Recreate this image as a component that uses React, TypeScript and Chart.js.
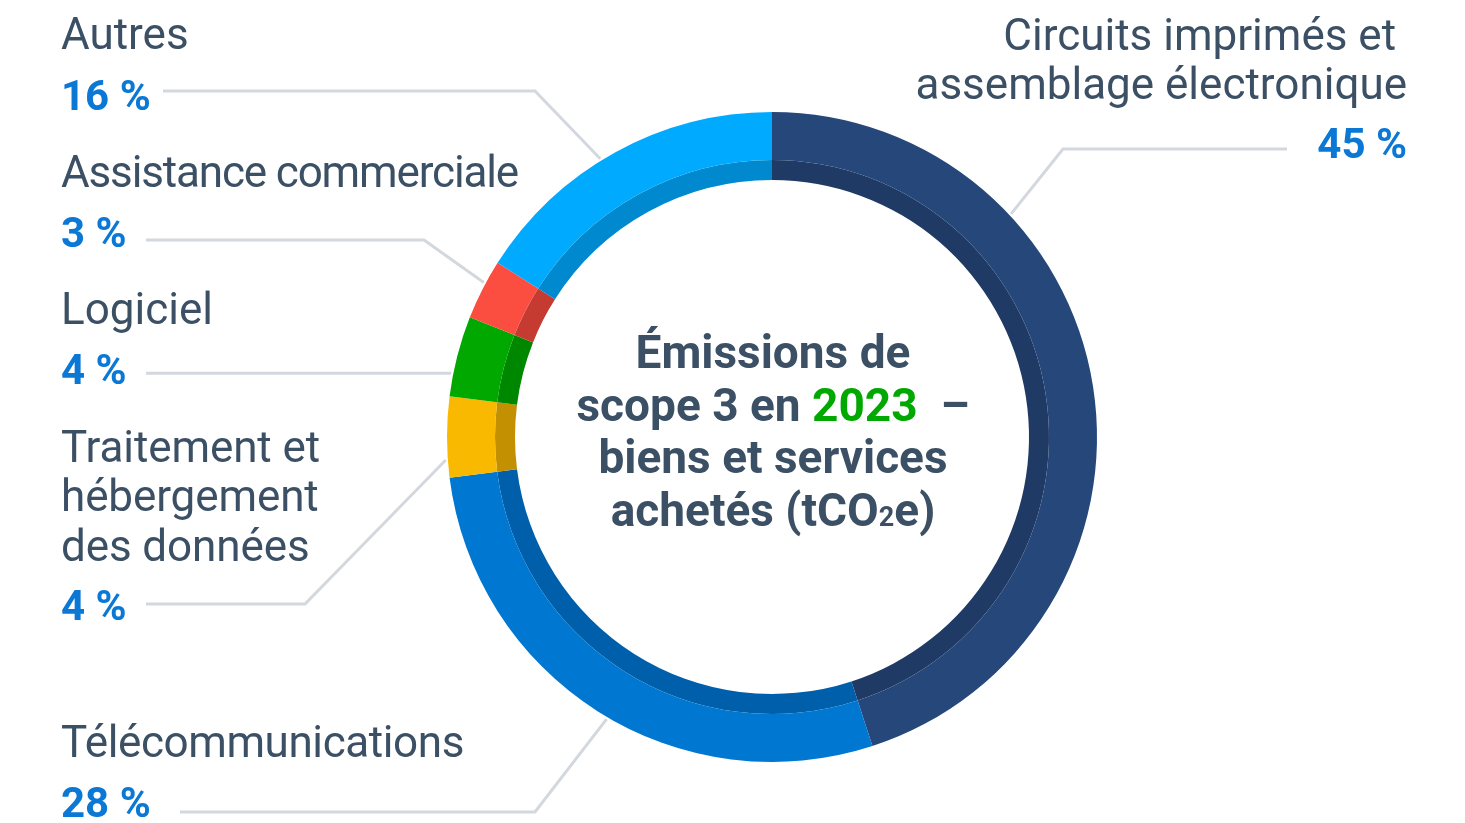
import React, { useEffect, useRef } from "react";
import { Chart, registerables } from "chart.js";

Chart.register(...registerables);

// ---- Data ----
const categories = [
  "Circuits imprimés et assemblage électronique",
  "Télécommunications",
  "Traitement et hébergement des données",
  "Logiciel",
  "Assistance commerciale",
  "Autres",
];
const shares = [45, 28, 4, 4, 3, 16];
const percentLabels = ["45 %", "28 %", "4 %", "4 %", "3 %", "16 %"];
const nameLines = [
  ["Circuits imprimés et ", "assemblage électronique"],
  ["Télécommunications"],
  ["Traitement et", "hébergement", "des données"],
  ["Logiciel"],
  ["Assistance commerciale"],
  ["Autres"],
];
const mainColors = ["#26477a", "#0077d1", "#f9b900", "#00a800", "#fb4d40", "#00aaff"];
const innerColors = ["#1f3a64", "#005fab", "#c29000", "#008700", "#c53b32", "#0089cf"];

// ---- Layout (positions / styles only) ----
const TEXT_COLOR = "#3c5065";
const PCT_COLOR = "#0a78d4";
const LINE_COLOR = "#d3d8de";
const FONT = "Roboto, 'Open Sans', sans-serif";

type LabelLayout = {
  align: "left" | "right";
  x: number;
  nameBaselines: number[];
  pctBaseline: number;
  lineX0: number;
  lineY: number;
  elbowX: number | null;
  t: number;
  spacing: number;
};
const labelLayout: LabelLayout[] = [
  { align: "right", x: 1407, nameBaselines: [51, 100], pctBaseline: 158, lineX0: 1287, lineY: 149, elbowX: 1063, t: 0.29, spacing: 0 },
  { align: "left", x: 61, nameBaselines: [758], pctBaseline: 817, lineX0: 180, lineY: 812, elbowX: 535, t: 0.48, spacing: -0.4 },
  { align: "left", x: 61, nameBaselines: [463, 512, 562], pctBaseline: 620, lineX0: 146, lineY: 604, elbowX: 305, t: 0.22, spacing: -0.1 },
  { align: "left", x: 61, nameBaselines: [325], pctBaseline: 384, lineX0: 146, lineY: 373, elbowX: null, t: 0.28, spacing: 0 },
  { align: "left", x: 61, nameBaselines: [188], pctBaseline: 247, lineX0: 146, lineY: 240, elbowX: 424, t: 0.61, spacing: -1.15 },
  { align: "left", x: 61, nameBaselines: [50], pctBaseline: 110, lineX0: 163, lineY: 91, elbowX: 535, t: 0.45, spacing: 0 },
];

const NAME_FONT = 44;
const PCT_FONT = 42;
const LABEL_LH = 49;
const topOffset = (font: number, lh: number) => (lh - 1.172 * font) / 2 + 0.928 * font;

const TITLE_FONT = 46;
const TITLE_LH = 52.5;

const leaderPlugin = {
  id: "leaders",
  beforeDatasetsDraw(chart: any) {
    const meta = chart.getDatasetMeta(0);
    const ctx = chart.ctx;
    ctx.save();
    ctx.strokeStyle = LINE_COLOR;
    ctx.lineWidth = 3;
    ctx.lineJoin = "miter";
    labelLayout.forEach((l, i) => {
      const arc = meta.data[i];
      if (!arc) return;
      const p = arc.getProps(["x", "y", "startAngle", "endAngle", "outerRadius"], true);
      const a = p.startAngle + l.t * (p.endAngle - p.startAngle);
      const r = p.outerRadius + 2;
      const ex = p.x + Math.cos(a) * r;
      const ey = p.y + Math.sin(a) * r;
      ctx.beginPath();
      ctx.moveTo(l.lineX0, l.elbowX === null ? ey : l.lineY);
      if (l.elbowX !== null) ctx.lineTo(l.elbowX, l.lineY);
      ctx.lineTo(ex, ey);
      ctx.stroke();
    });
    ctx.restore();
  },
};

export default function App() {
  const canvasRef = useRef<HTMLCanvasElement | null>(null);

  useEffect(() => {
    if (!canvasRef.current) return;
    const chart = new Chart(canvasRef.current, {
      type: "doughnut",
      data: {
        labels: categories,
        datasets: [
          { data: shares, backgroundColor: mainColors, borderWidth: 0, weight: 48 },
          { data: shares, backgroundColor: innerColors, borderWidth: 0, weight: 20 },
        ],
      },
      options: {
        responsive: false,
        animation: false,
        events: [],
        cutout: "79.08%",
        layout: { padding: { left: 447, top: 112, right: 368, bottom: 61 } },
        plugins: {
          legend: { display: false },
          tooltip: { enabled: false },
        },
        elements: { arc: { hoverOffset: 0, offset: 0, spacing: 0 } as any },
      } as any,
      plugins: [leaderPlugin],
    });
    return () => chart.destroy();
  }, []);

  return (
    <div
      style={{
        position: "absolute",
        left: 0,
        top: 0,
        width: 1465,
        height: 823,
        background: "#ffffff",
        overflow: "hidden",
        fontFamily: FONT,
      }}
    >
      <canvas ref={canvasRef} width={1465} height={823} style={{ position: "absolute", left: 0, top: 0 }} />
      {labelLayout.map((l, i) => (
        <React.Fragment key={i}>
          {nameLines[i].map((line, j) => (
            <div
              key={j}
              style={{
                position: "absolute",
                top: l.nameBaselines[j] - topOffset(NAME_FONT, LABEL_LH),
                ...(l.align === "left" ? { left: l.x } : { right: 1465 - l.x }),
                fontSize: NAME_FONT,
                lineHeight: LABEL_LH + "px",
                letterSpacing: l.spacing + "px",
                color: TEXT_COLOR,
                whiteSpace: "pre",
                textAlign: l.align,
              }}
            >
              {line}
            </div>
          ))}
          <div
            style={{
              position: "absolute",
              top: l.pctBaseline - topOffset(PCT_FONT, LABEL_LH),
              ...(l.align === "left" ? { left: l.x } : { right: 1465 - l.x }),
              fontSize: PCT_FONT,
              fontWeight: 700,
              lineHeight: LABEL_LH + "px",
              color: PCT_COLOR,
              whiteSpace: "pre",
            }}
          >
            {percentLabels[i]}
          </div>
        </React.Fragment>
      ))}
      <div
        style={{
          position: "absolute",
          left: 773 - 260,
          width: 520,
          top: 368 - topOffset(TITLE_FONT, TITLE_LH),
          textAlign: "center",
          fontSize: TITLE_FONT,
          fontWeight: 700,
          lineHeight: TITLE_LH + "px",
          color: TEXT_COLOR,
          whiteSpace: "pre",
        }}
      >
        <div>Émissions de</div>
        <div>
          scope 3 en <span style={{ color: "#00a800" }}>2023</span>{"  –"}
        </div>
        <div>biens et services</div>
        <div>
          achetés (tCO<span style={{ fontSize: 27 }}>2</span>e)
        </div>
      </div>
    </div>
  );
}
